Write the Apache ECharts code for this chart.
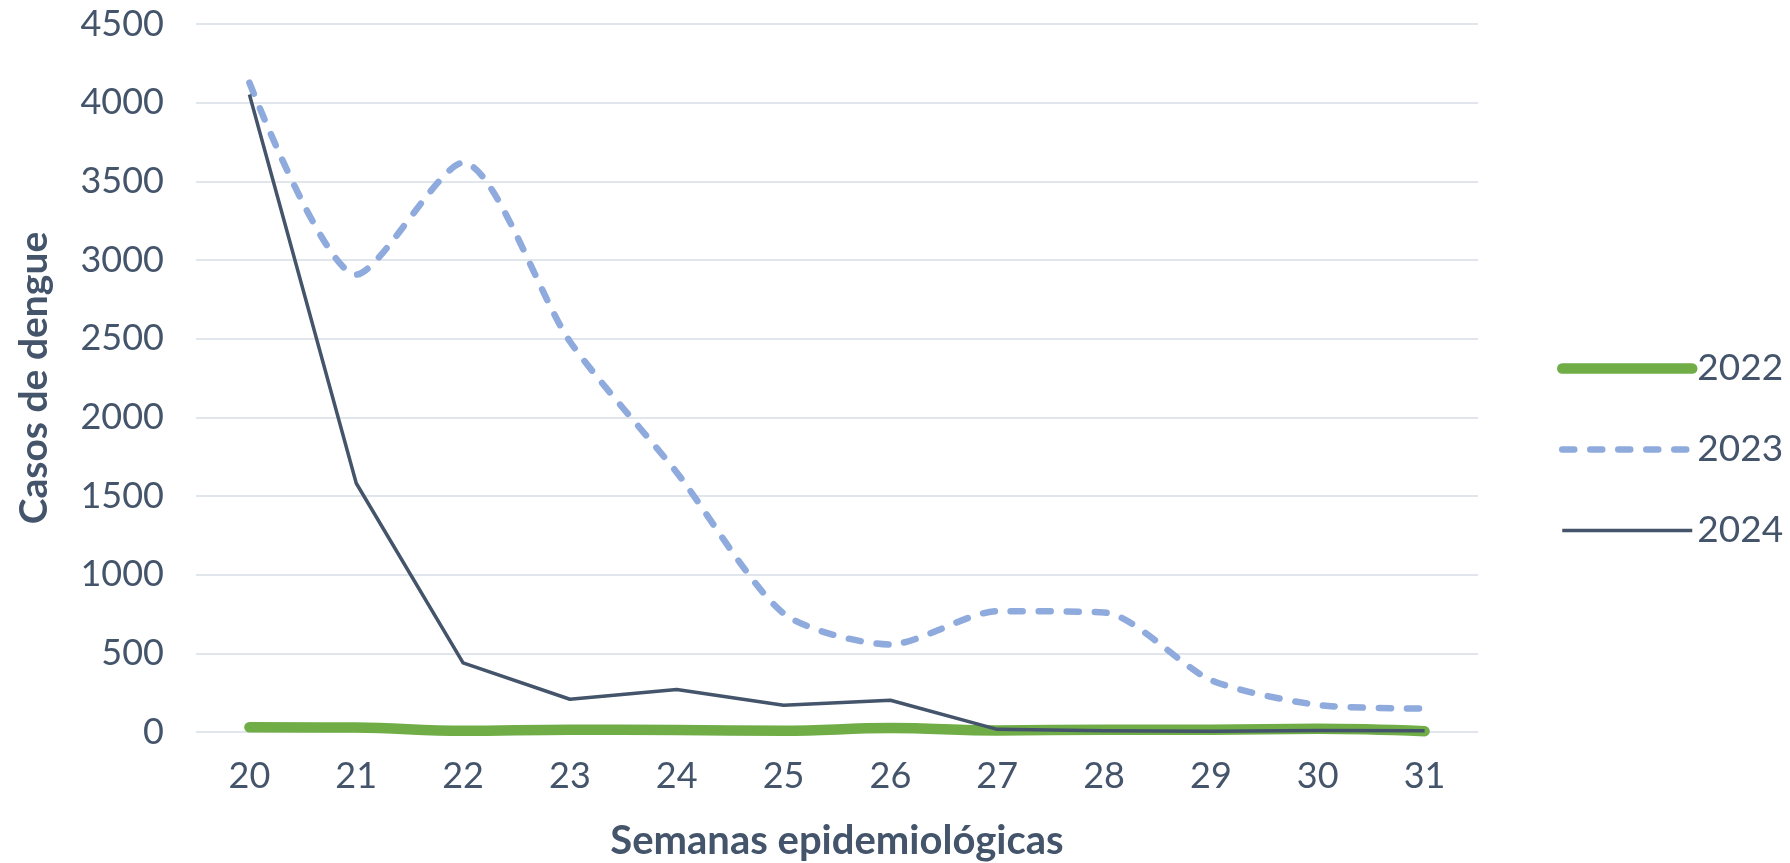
<!DOCTYPE html>
<html>
<head>
<meta charset="utf-8">
<script src="https://cdn.jsdelivr.net/npm/echarts@6/dist/echarts.min.js"></script>
<style>
  html, body { margin: 0; padding: 0; background: #ffffff; }
  #chart { width: 1790px; height: 863px; }
</style>
</head>
<body>
<div id="chart"></div>
<script>
const weeks = ['20','21','22','23','24','25','26','27','28','29','30','31'];
const cases2022 = [30, 28, 8, 15, 12, 8, 25, 10, 15, 15, 20, 5];
const cases2023 = [4127, 2907, 3618, 2482, 1650, 754, 556, 768, 760, 330, 172, 149];
const cases2024 = [4052, 1581, 439, 208, 270, 170, 202, 17, 8, 5, 10, 8];
const yTicks = { min: 0, max: 4500, interval: 500 };
const seriesNames = ['2022', '2023', '2024'];

const textColor = '#44546A';
const fontFamily = 'Lato, "Open Sans", sans-serif';

const chart = echarts.init(document.getElementById('chart'), null, { renderer: 'canvas' });
chart.setOption({
  backgroundColor: '#ffffff',
  animation: false,
  grid: { left: 196, right: 312, top: 24, bottom: 131, containLabel: false, outerBoundsMode: 'none' },
  legend: {
    orient: 'vertical',
    left: 1557,
    top: 350,
    padding: 0,
    itemWidth: 130,
    itemHeight: 12,
    itemGap: 44,
    itemStyle: { opacity: 0 },
    textStyle: { color: textColor, fontSize: 37, fontFamily: fontFamily },
    data: [
      { name: seriesNames[0], itemStyle: { opacity: 0 }, lineStyle: { width: 10.5, color: '#70AD47', cap: 'round' } },
      { name: seriesNames[1], itemStyle: { opacity: 0 }, lineStyle: { width: 6.5, color: '#8FAADC', type: [12, 16], cap: 'round' } },
      { name: seriesNames[2], itemStyle: { opacity: 0 }, lineStyle: { width: 3.5, color: '#44546A' } }
    ]
  },
  xAxis: {
    type: 'category',
    data: weeks,
    boundaryGap: true,
    axisLine: { show: false },
    axisTick: { show: false },
    axisLabel: { color: textColor, fontSize: 36, fontFamily: fontFamily, margin: 26 },
    name: 'Semanas epidemiológicas',
    nameLocation: 'middle',
    nameGap: 89,
    nameTextStyle: { color: textColor, fontSize: 40, fontWeight: 'bold', fontFamily: fontFamily }
  },
  yAxis: {
    type: 'value',
    min: yTicks.min,
    max: yTicks.max,
    interval: yTicks.interval,
    axisLine: { show: false },
    axisTick: { show: false },
    axisLabel: { color: textColor, fontSize: 36, fontFamily: fontFamily, margin: 32, formatter: function (v) { return String(v); } },
    splitLine: { lineStyle: { color: '#E1E5EC', width: 2 } },
    name: 'Casos de dengue',
    nameLocation: 'middle',
    nameGap: 142,
    nameRotate: 90,
    nameTextStyle: { color: textColor, fontSize: 39, fontWeight: 'bold', fontFamily: fontFamily }
  },
  series: [
    {
      name: seriesNames[0], type: 'line', data: cases2022, smooth: 0.4,
      symbol: 'none', z: 2,
      lineStyle: { color: '#70AD47', width: 10.5, cap: 'round', join: 'round' },
      itemStyle: { color: '#70AD47' }
    },
    {
      name: seriesNames[1], type: 'line', data: cases2023, smooth: 0.25,
      symbol: 'none', z: 3,
      lineStyle: { color: '#8FAADC', width: 6.5, type: [12, 16], cap: 'round', join: 'round' },
      itemStyle: { color: '#8FAADC' }
    },
    {
      name: seriesNames[2], type: 'line', data: cases2024, smooth: false,
      symbol: 'none', z: 4,
      lineStyle: { color: '#44546A', width: 3.5, join: 'round' },
      itemStyle: { color: '#44546A' }
    }
  ]
});
</script>
</body>
</html>
